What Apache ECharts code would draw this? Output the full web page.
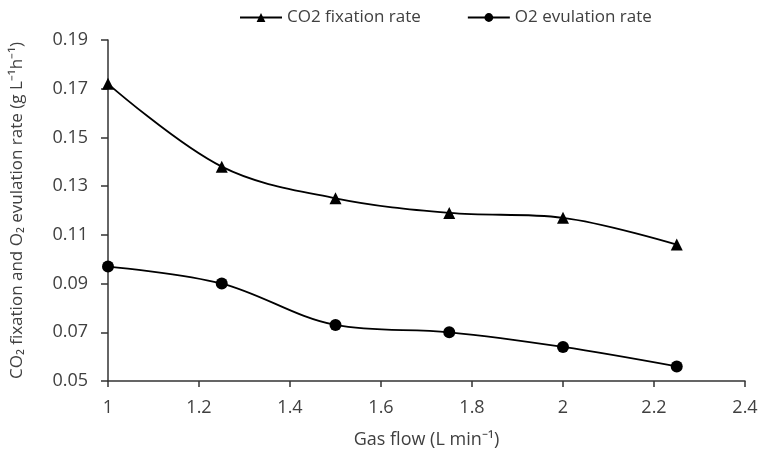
<!DOCTYPE html>
<html>
<head>
<meta charset="utf-8">
<script src="https://cdn.jsdelivr.net/npm/echarts@6/dist/echarts.min.js"></script>
<style>html,body{margin:0;padding:0;background:#fff;}#c{width:766px;height:458px;}</style>
</head>
<body>
<div id="c"></div>
<script>
const gasFlow = [1, 1.25, 1.5, 1.75, 2, 2.25];
const co2Fixation = [0.172, 0.138, 0.125, 0.119, 0.117, 0.106];
const o2Evolution = [0.097, 0.090, 0.073, 0.070, 0.064, 0.056];
const seriesNames = ['CO2 fixation rate', 'O2 evulation rate'];
const xTitle = 'Gas flow (L min\u207B\u00B9)';
const yTitle = 'CO\u2082 fixation and O\u2082 evulation rate (g L\u207B\u00B9h\u207B\u00B9)';

const font = '"Open Sans", "Liberation Sans", sans-serif';
const txt = '#404040';
const chart = echarts.init(document.getElementById('c'), null, {renderer: 'canvas'});
chart.setOption({
  animation: false,
  backgroundColor: '#fff',
  legend: {
    top: 4, left: 234,
    itemWidth: 42, itemHeight: 11, itemGap: 46,
    textStyle: {fontFamily: font, fontSize: 17, color: txt},
    data: seriesNames
  },
  grid: {left: 108, right: 21, top: 40, bottom: 77},
  xAxis: {
    type: 'value', min: 1, max: 2.4, interval: 0.2,
    name: xTitle, nameLocation: 'middle', nameGap: 50,
    nameTextStyle: {fontFamily: font, fontSize: 18, color: txt},
    axisLine: {show: true, lineStyle: {color: '#333', width: 1.5}},
    axisTick: {show: true, length: 6, lineStyle: {color: '#333', width: 1.5}},
    axisLabel: {fontFamily: font, fontSize: 18, color: txt, margin: 18},
    splitLine: {show: false}
  },
  yAxis: {
    type: 'value', min: 0.05, max: 0.19, interval: 0.02,
    name: yTitle, nameLocation: 'middle', nameGap: 82,
    nameTextStyle: {fontFamily: font, fontSize: 17, color: txt},
    axisLine: {show: true, lineStyle: {color: '#333', width: 1.5}},
    axisTick: {show: true, length: 7, lineStyle: {color: '#333', width: 1.5}},
    axisLabel: {fontFamily: font, fontSize: 18, color: txt, margin: 20,
      formatter: v => v.toFixed(2)},
    splitLine: {show: false}
  },
  series: [
    {
      name: seriesNames[0], type: 'line', smooth: 0.35,
      data: gasFlow.map((x, i) => [x, co2Fixation[i]]),
      symbol: 'triangle', symbolSize: 12,
      lineStyle: {color: '#000', width: 1.8},
      itemStyle: {color: '#000'}
    },
    {
      name: seriesNames[1], type: 'line', smooth: 0.35,
      data: gasFlow.map((x, i) => [x, o2Evolution[i]]),
      symbol: 'circle', symbolSize: 12,
      lineStyle: {color: '#000', width: 1.8},
      itemStyle: {color: '#000'}
    }
  ]
});
</script>
</body>
</html>
